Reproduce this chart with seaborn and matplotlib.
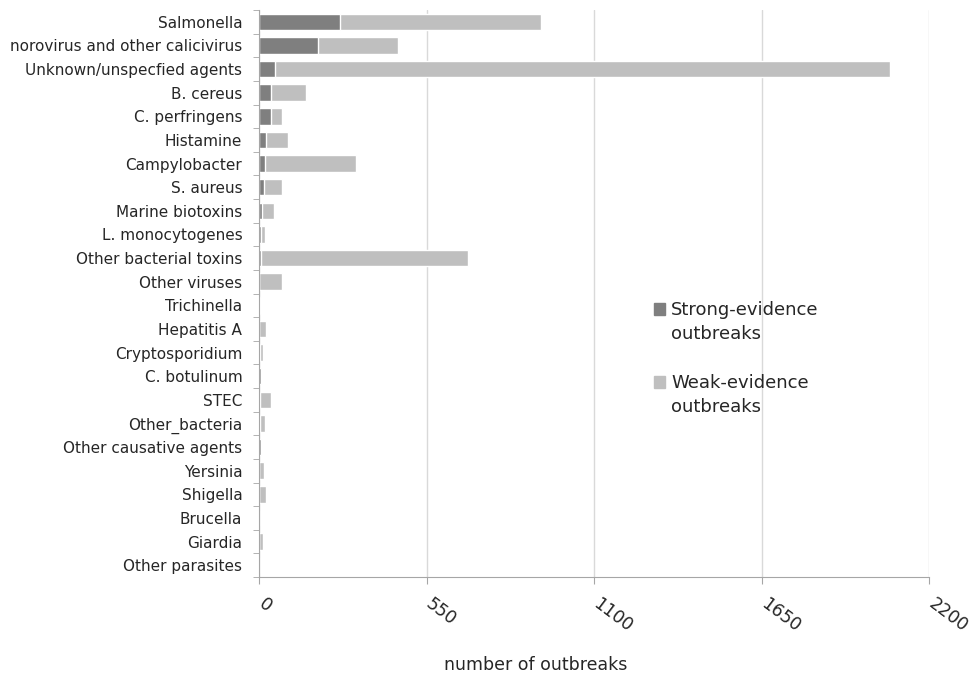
import pandas as pd
import numpy as np
import matplotlib
matplotlib.use('Agg')
import matplotlib.pyplot as plt
import seaborn as sns
from matplotlib.patches import Patch
from matplotlib.transforms import ScaledTranslation

agents = ['Salmonella', 'norovirus and other calicivirus', 'Unknown/unspecfied agents',
          'B. cereus', 'C. perfringens', 'Histamine', 'Campylobacter', 'S. aureus',
          'Marine biotoxins', 'L. monocytogenes', 'Other bacterial toxins', 'Other viruses',
          'Trichinella', 'Hepatitis A', 'Cryptosporidium', 'C. botulinum', 'STEC',
          'Other_bacteria', 'Other causative agents', 'Yersinia', 'Shigella', 'Brucella',
          'Giardia', 'Other parasites']
strong = [265, 194, 52, 38, 38, 24, 20, 15, 11, 8, 7, 0,
          4, 1, 3, 5, 2, 3, 5, 1, 1, 1, 1, 0]
weak = [660, 264, 2020, 116, 36, 71, 299, 59, 38, 13, 679, 74,
        3, 21, 9, 4, 39, 17, 4, 14, 21, 0, 12, 0]
xticks = [0, 550, 1100, 1650, 2200]

df = pd.DataFrame({'agent': agents, 'strong': strong, 'weak': weak})
df['total'] = df['strong'] + df['weak']

dark = '#7f7f7f'
light = '#bfbfbf'
txt = '#262626'

sns.set_style('white')
plt.rcParams['font.family'] = ['DejaVu Sans']

fig = plt.figure(figsize=(9.71, 6.75), dpi=100)
ax = fig.add_axes([259/971, 1-577/675, 670/971, 567/675])

# stacked: total in light, strong on top in dark
sns.barplot(data=df, y='agent', x='total', color=light, orient='h', width=0.7,
            saturation=1, ax=ax)
sns.barplot(data=df, y='agent', x='strong', color=dark, orient='h', width=0.7,
            saturation=1, ax=ax)

ax.set_xlim(0, 2200)
ax.set_ylim(len(agents)-0.5, -0.5)
ax.set_xticks(xticks, labels=[str(t) for t in xticks], rotation=-37, ha='left',
              rotation_mode='anchor', fontsize=12.5, color=txt)
ax.tick_params(axis='x', bottom=True, length=5, color='#a6a6a6', pad=8)
for lab in ax.get_xticklabels():
    lab.set_transform(lab.get_transform() + ScaledTranslation(5/72, 0, fig.dpi_scale_trans))
ax.grid(axis='x', color='#d9d9d9', linewidth=1)
ax.set_axisbelow(True)

ax.tick_params(axis='y', which='major', length=0, labelsize=11, pad=12, labelcolor=txt)
ax.set_yticks(np.arange(-0.5, len(agents)), minor=True)
ax.tick_params(axis='y', which='minor', left=True, length=4, color='#a6a6a6', direction='out')

for s in ['top', 'right']:
    ax.spines[s].set_visible(False)
ax.spines['left'].set_color('#a6a6a6')
ax.spines['bottom'].set_color('#a6a6a6')

ax.set_ylabel('')
ax.set_xlabel('number of outbreaks', fontsize=12.5, color=txt)
ax.xaxis.set_label_coords(0.413, -0.14)

blank = Patch(facecolor='none', edgecolor='none')
leg_kw = dict(loc='center left', frameon=False, fontsize=13, handlelength=0.6,
              handleheight=0.6, handletextpad=0.35, labelspacing=0.3, borderpad=0,
              borderaxespad=0, labelcolor=txt, bbox_transform=fig.transFigure)
leg1 = ax.legend([Patch(color=dark), blank], ['Strong-evidence', 'outbreaks'],
                 bbox_to_anchor=(654/971, 1-322/675), **leg_kw)
ax.add_artist(leg1)
ax.legend([Patch(color=light), blank], ['Weak-evidence', 'outbreaks'],
          bbox_to_anchor=(654/971, 1-395/675), **leg_kw)

fig.savefig('out.png', dpi=100)
